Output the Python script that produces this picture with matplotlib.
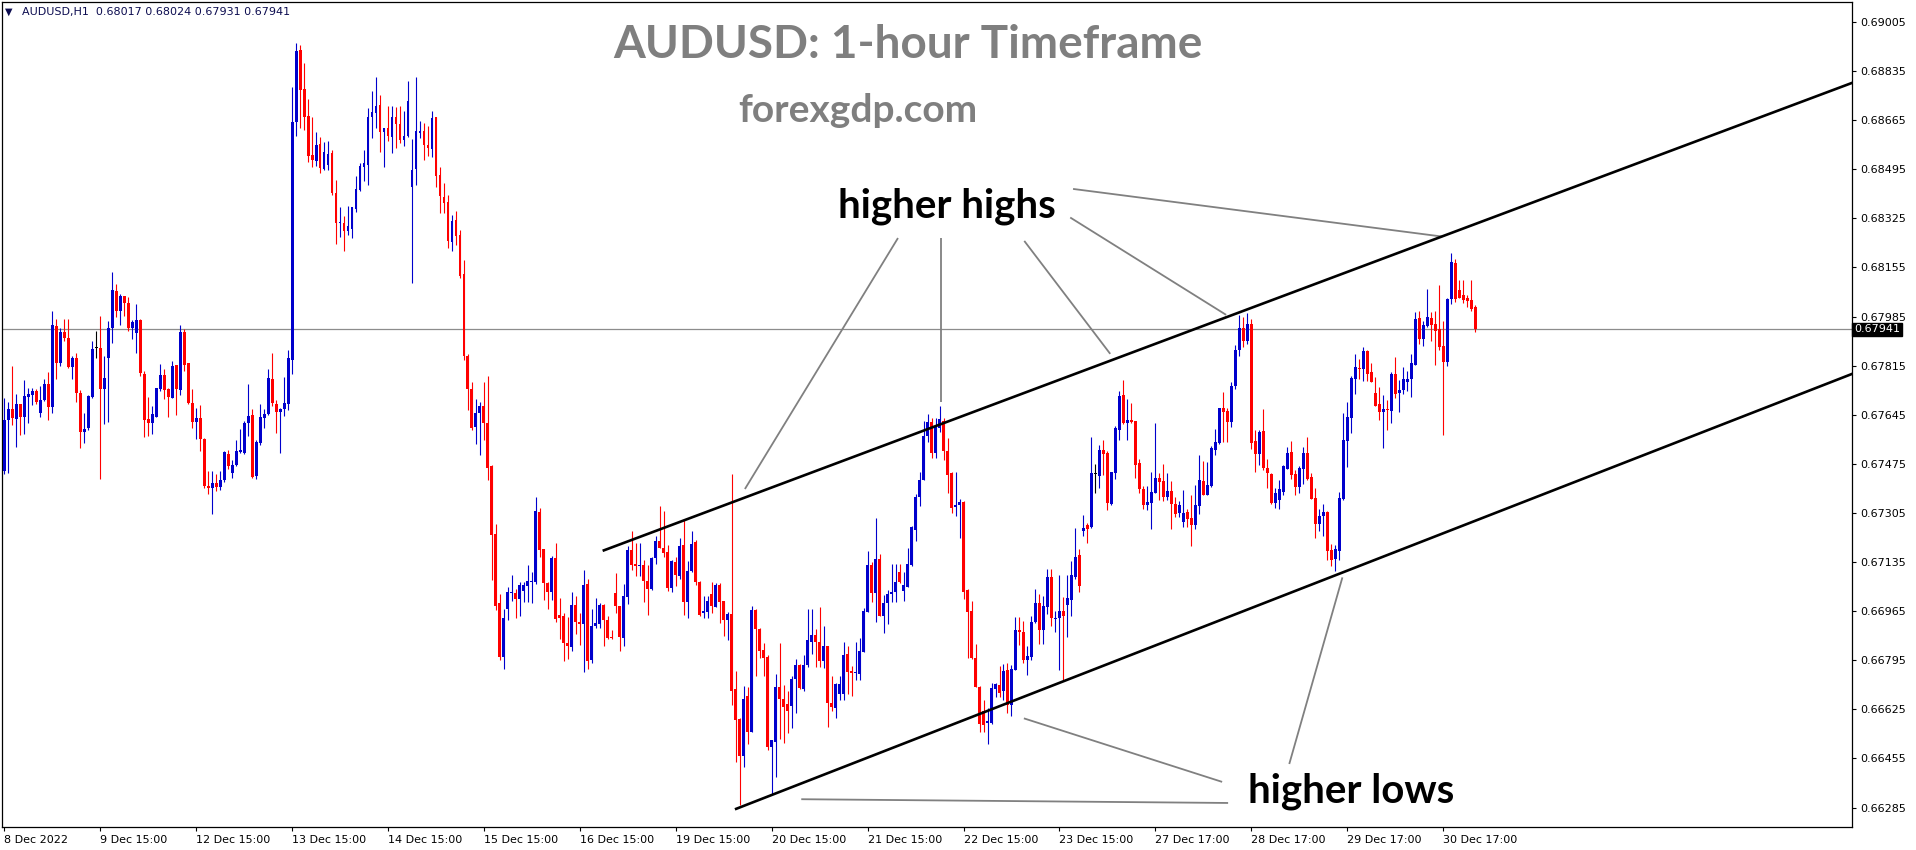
import numpy as np
import matplotlib
matplotlib.use("Agg")
import matplotlib.pyplot as plt

# AUDUSD H1 candles (bar 0 = 8 Dec 15:00)
opens = [
    0.67452, 0.67627, 0.67666, 0.67629, 0.67684, 0.67636, 0.67706, 0.67712, 0.67728, 0.67650, 0.67697, 0.67753,
    0.67672, 0.67954, 0.67823, 0.67932, 0.67911, 0.67812, 0.67842, 0.67721, 0.67587, 0.67598, 0.67706, 0.67875,
    0.67877, 0.67733, 0.67843, 0.67944, 0.68075, 0.68005, 0.68055, 0.68033, 0.67947, 0.67928, 0.67972, 0.67787,
    0.67630, 0.67618, 0.67639, 0.67733, 0.67784, 0.67734, 0.67704, 0.67816, 0.67730, 0.67931, 0.67825, 0.67686,
    0.67619, 0.67634, 0.67560, 0.67400, 0.67390, 0.67410, 0.67395, 0.67419, 0.67510, 0.67443, 0.67472, 0.67515,
    0.67514, 0.67616, 0.67643, 0.67433, 0.67546, 0.67635, 0.67647, 0.67770, 0.67683, 0.67656, 0.67665, 0.67682,
    0.67836, 0.68657, 0.68907, 0.68774, 0.68681, 0.68545, 0.68525, 0.68581, 0.68496, 0.68510, 0.68550, 0.68413,
    0.68308, 0.68309, 0.68283, 0.68288, 0.68357, 0.68423, 0.68503, 0.68509, 0.68675, 0.68689, 0.68716, 0.68625,
    0.68638, 0.68608, 0.68675, 0.68652, 0.68595, 0.68610, 0.68435, 0.68496, 0.68622, 0.68626, 0.68580, 0.68565,
    0.68676, 0.68474, 0.68400, 0.68381, 0.68244, 0.68320, 0.68268, 0.68133, 0.67848, 0.67735, 0.67601, 0.67650,
    0.67677, 0.67617, 0.67466, 0.67233, 0.66992, 0.66807, 0.66971, 0.67027, 0.67027, 0.67008, 0.67036, 0.67051,
    0.67065, 0.67065, 0.67309, 0.67179, 0.67061, 0.67032, 0.67148, 0.66953, 0.66948, 0.66855, 0.66842, 0.66985,
    0.66929, 0.66920, 0.67059, 0.66795, 0.66914, 0.66921, 0.66985, 0.66935, 0.66877, 0.67028, 0.66983, 0.66873,
    0.67014, 0.67178, 0.67128, 0.67120, 0.67126, 0.67068, 0.67042, 0.67148, 0.67208, 0.67185, 0.67171, 0.67046,
    0.67135, 0.67087, 0.67194, 0.66997, 0.67103, 0.67206, 0.67066, 0.66959, 0.66961, 0.67025, 0.66981, 0.67054,
    0.66999, 0.66935, 0.66956, 0.66697, 0.66593, 0.66464, 0.66670, 0.66548, 0.66968, 0.66905, 0.66829, 0.66805,
    0.66494, 0.66511, 0.66701, 0.66661, 0.66644, 0.66637, 0.66730, 0.66780, 0.66696, 0.66777, 0.66860, 0.66884,
    0.66860, 0.66791, 0.66844, 0.66647, 0.66631, 0.66679, 0.66678, 0.66816, 0.66757, 0.66751, 0.66746, 0.66825,
    0.66963, 0.67124, 0.67027, 0.67145, 0.66950, 0.66992, 0.67025, 0.67030, 0.67100, 0.67035, 0.67050, 0.67124,
    0.67246, 0.67359, 0.67418, 0.67570, 0.67620, 0.67511, 0.67598, 0.67622, 0.67521, 0.67444, 0.67325, 0.67331,
    0.67342, 0.67040, 0.66965, 0.66803, 0.66702, 0.66621, 0.66577, 0.66579, 0.66696, 0.66710, 0.66687, 0.66763,
    0.66640, 0.66761, 0.66901, 0.66893, 0.66796, 0.66807, 0.66927, 0.66994, 0.66900, 0.66981, 0.67083, 0.66939,
    0.66941, 0.66967, 0.66988, 0.67004, 0.67085, 0.67158, 0.67243, 0.67262, 0.67258, 0.67439, 0.67434, 0.67524,
    0.67513, 0.67335, 0.67442, 0.67592, 0.67712, 0.67616, 0.67626, 0.67625, 0.67477, 0.67389, 0.67333, 0.67340,
    0.67373, 0.67425, 0.67417, 0.67359, 0.67382, 0.67335, 0.67304, 0.67275, 0.67307, 0.67289, 0.67265, 0.67330,
    0.67417, 0.67369, 0.67399, 0.67523, 0.67548, 0.67668, 0.67657, 0.67621, 0.67743, 0.67870, 0.67945, 0.67900,
    0.67960, 0.67553, 0.67509, 0.67588, 0.67460, 0.67441, 0.67341, 0.67350, 0.67376, 0.67459, 0.67515, 0.67440,
    0.67396, 0.67459, 0.67512, 0.67431, 0.67356, 0.67267, 0.67295, 0.67308, 0.67177, 0.67145, 0.67173, 0.67352,
    0.67555, 0.67634, 0.67768, 0.67805, 0.67802, 0.67867, 0.67793, 0.67720, 0.67683, 0.67656, 0.67664, 0.67659,
    0.67787, 0.67719, 0.67731, 0.67760, 0.67768, 0.67816, 0.67980, 0.67907, 0.67952, 0.67979, 0.67959, 0.67942,
    0.67884, 0.67828, 0.68045, 0.68170, 0.68077, 0.68060, 0.68050, 0.68042, 0.68017,
]
highs = [
    0.67703, 0.67691, 0.67814, 0.67718, 0.67684, 0.67764, 0.67738, 0.67738, 0.67735, 0.67746, 0.67770, 0.67793,
    0.68006, 0.67975, 0.67947, 0.67977, 0.67978, 0.67850, 0.67860, 0.67730, 0.67651, 0.67714, 0.67899, 0.67936,
    0.67988, 0.67850, 0.67971, 0.68140, 0.68099, 0.68064, 0.68057, 0.68052, 0.67974, 0.68030, 0.67975, 0.67797,
    0.67706, 0.67674, 0.67738, 0.67822, 0.67802, 0.67738, 0.67830, 0.67819, 0.67957, 0.67943, 0.67825, 0.67733,
    0.67669, 0.67680, 0.67565, 0.67450, 0.67450, 0.67440, 0.67450, 0.67518, 0.67522, 0.67489, 0.67557, 0.67597,
    0.67622, 0.67750, 0.67664, 0.67556, 0.67684, 0.67664, 0.67803, 0.67860, 0.67697, 0.67668, 0.67775, 0.67870,
    0.68781, 0.68931, 0.68925, 0.68864, 0.68740, 0.68676, 0.68623, 0.68607, 0.68589, 0.68594, 0.68561, 0.68459,
    0.68363, 0.68332, 0.68367, 0.68366, 0.68473, 0.68517, 0.68561, 0.68707, 0.68767, 0.68814, 0.68752, 0.68639,
    0.68714, 0.68715, 0.68709, 0.68714, 0.68696, 0.68800, 0.68600, 0.68815, 0.68662, 0.68655, 0.68644, 0.68697,
    0.68677, 0.68502, 0.68447, 0.68406, 0.68337, 0.68349, 0.68286, 0.68181, 0.67854, 0.67758, 0.67698, 0.67691,
    0.67758, 0.67780, 0.67472, 0.67268, 0.67024, 0.66974, 0.67048, 0.67089, 0.67043, 0.67065, 0.67065, 0.67126,
    0.67100, 0.67359, 0.67323, 0.67182, 0.67065, 0.67157, 0.67201, 0.67009, 0.66959, 0.66945, 0.67032, 0.67017,
    0.66958, 0.67109, 0.67076, 0.66972, 0.67009, 0.66993, 0.66991, 0.66949, 0.66901, 0.67096, 0.66983, 0.67058,
    0.67189, 0.67244, 0.67201, 0.67201, 0.67141, 0.67126, 0.67154, 0.67226, 0.67330, 0.67313, 0.67194, 0.67143,
    0.67154, 0.67220, 0.67280, 0.67140, 0.67241, 0.67211, 0.67069, 0.67019, 0.67019, 0.67066, 0.67062, 0.67063,
    0.67002, 0.66961, 0.67440, 0.66758, 0.66596, 0.66705, 0.66702, 0.66982, 0.66972, 0.66907, 0.66855, 0.66812,
    0.66518, 0.66746, 0.66856, 0.66709, 0.66688, 0.66739, 0.66800, 0.66782, 0.66815, 0.66971, 0.66971, 0.66905,
    0.66980, 0.66915, 0.66844, 0.66742, 0.66716, 0.66741, 0.66858, 0.66843, 0.66774, 0.66859, 0.66872, 0.66976,
    0.67173, 0.67136, 0.67287, 0.67162, 0.67022, 0.67039, 0.67129, 0.67129, 0.67129, 0.67100, 0.67184, 0.67261,
    0.67371, 0.67448, 0.67622, 0.67649, 0.67634, 0.67634, 0.67676, 0.67634, 0.67565, 0.67446, 0.67446, 0.67353,
    0.67347, 0.67042, 0.67000, 0.66853, 0.66705, 0.66659, 0.66630, 0.66718, 0.66718, 0.66774, 0.66783, 0.66787,
    0.66780, 0.66944, 0.66944, 0.66930, 0.66843, 0.66947, 0.67042, 0.67026, 0.67017, 0.67111, 0.67112, 0.66964,
    0.67092, 0.67014, 0.67092, 0.67138, 0.67253, 0.67181, 0.67299, 0.67270, 0.67567, 0.67474, 0.67542, 0.67559,
    0.67519, 0.67448, 0.67605, 0.67728, 0.67764, 0.67698, 0.67686, 0.67625, 0.67493, 0.67400, 0.67400, 0.67446,
    0.67615, 0.67443, 0.67473, 0.67444, 0.67417, 0.67362, 0.67345, 0.67385, 0.67319, 0.67368, 0.67403, 0.67507,
    0.67486, 0.67483, 0.67536, 0.67596, 0.67670, 0.67724, 0.67669, 0.67757, 0.67885, 0.67990, 0.67985, 0.67998,
    0.67975, 0.67592, 0.67591, 0.67664, 0.67491, 0.67444, 0.67391, 0.67420, 0.67472, 0.67535, 0.67553, 0.67454,
    0.67466, 0.67535, 0.67567, 0.67445, 0.67391, 0.67319, 0.67337, 0.67311, 0.67198, 0.67194, 0.67376, 0.67650,
    0.67691, 0.67781, 0.67856, 0.67837, 0.67878, 0.67871, 0.67826, 0.67775, 0.67740, 0.67714, 0.67697, 0.67793,
    0.67844, 0.67766, 0.67810, 0.67798, 0.67856, 0.68000, 0.68003, 0.67968, 0.68082, 0.68000, 0.68005, 0.68093,
    0.67971, 0.68050, 0.68206, 0.68185, 0.68112, 0.68112, 0.68060, 0.68112, 0.68024,
]
lows = [
    0.67441, 0.67443, 0.67610, 0.67534, 0.67576, 0.67580, 0.67615, 0.67679, 0.67683, 0.67639, 0.67694, 0.67627,
    0.67651, 0.67769, 0.67814, 0.67901, 0.67806, 0.67769, 0.67691, 0.67531, 0.67549, 0.67592, 0.67704, 0.67843,
    0.67423, 0.67614, 0.67619, 0.67892, 0.67985, 0.67956, 0.67987, 0.67936, 0.67908, 0.67860, 0.67781, 0.67567,
    0.67570, 0.67580, 0.67636, 0.67728, 0.67699, 0.67636, 0.67702, 0.67644, 0.67712, 0.67798, 0.67683, 0.67599,
    0.67560, 0.67521, 0.67390, 0.67370, 0.67300, 0.67380, 0.67385, 0.67413, 0.67457, 0.67425, 0.67468, 0.67512,
    0.67509, 0.67572, 0.67425, 0.67424, 0.67541, 0.67600, 0.67643, 0.67674, 0.67583, 0.67513, 0.67642, 0.67661,
    0.67785, 0.68609, 0.68638, 0.68631, 0.68521, 0.68502, 0.68506, 0.68482, 0.68492, 0.68492, 0.68407, 0.68238,
    0.68261, 0.68213, 0.68266, 0.68256, 0.68348, 0.68420, 0.68453, 0.68439, 0.68604, 0.68639, 0.68556, 0.68503,
    0.68594, 0.68552, 0.68569, 0.68585, 0.68574, 0.68608, 0.68100, 0.68440, 0.68604, 0.68527, 0.68541, 0.68538,
    0.68432, 0.68343, 0.68342, 0.68222, 0.68212, 0.68232, 0.68117, 0.67836, 0.67662, 0.67591, 0.67543, 0.67505,
    0.67558, 0.67419, 0.67073, 0.66969, 0.66796, 0.66766, 0.66934, 0.67001, 0.66942, 0.66949, 0.66996, 0.66996,
    0.66992, 0.67060, 0.67154, 0.67004, 0.66974, 0.67003, 0.66926, 0.66868, 0.66794, 0.66799, 0.66828, 0.66886,
    0.66848, 0.66754, 0.66764, 0.66784, 0.66906, 0.66908, 0.66844, 0.66868, 0.66869, 0.66958, 0.66826, 0.66844,
    0.66991, 0.67108, 0.67087, 0.67087, 0.66998, 0.66952, 0.67038, 0.67127, 0.67183, 0.67153, 0.67036, 0.67032,
    0.67053, 0.67075, 0.66952, 0.66941, 0.67101, 0.67054, 0.66949, 0.66943, 0.66943, 0.66958, 0.66978, 0.66923,
    0.66879, 0.66865, 0.66640, 0.66443, 0.66293, 0.66426, 0.66504, 0.66548, 0.66741, 0.66802, 0.66742, 0.66483,
    0.66331, 0.66391, 0.66524, 0.66507, 0.66542, 0.66559, 0.66613, 0.66695, 0.66689, 0.66773, 0.66816, 0.66773,
    0.66773, 0.66767, 0.66565, 0.66618, 0.66596, 0.66658, 0.66657, 0.66678, 0.66673, 0.66727, 0.66726, 0.66825,
    0.66963, 0.66998, 0.66928, 0.66947, 0.66889, 0.66922, 0.66996, 0.66996, 0.67062, 0.67002, 0.67050, 0.67122,
    0.67208, 0.67330, 0.67418, 0.67552, 0.67494, 0.67497, 0.67586, 0.67490, 0.67375, 0.67306, 0.67294, 0.67219,
    0.67006, 0.66804, 0.66799, 0.66701, 0.66548, 0.66548, 0.66504, 0.66576, 0.66669, 0.66669, 0.66658, 0.66612,
    0.66602, 0.66761, 0.66849, 0.66785, 0.66744, 0.66795, 0.66924, 0.66852, 0.66851, 0.66955, 0.66912, 0.66894,
    0.66763, 0.66726, 0.66875, 0.66948, 0.67075, 0.67033, 0.67226, 0.67200, 0.67252, 0.67375, 0.67390, 0.67437,
    0.67315, 0.67332, 0.67424, 0.67557, 0.67614, 0.67556, 0.67616, 0.67427, 0.67375, 0.67319, 0.67315, 0.67248,
    0.67373, 0.67349, 0.67347, 0.67350, 0.67251, 0.67292, 0.67292, 0.67257, 0.67257, 0.67191, 0.67251, 0.67300,
    0.67367, 0.67367, 0.67396, 0.67506, 0.67545, 0.67551, 0.67552, 0.67604, 0.67735, 0.67850, 0.67880, 0.67890,
    0.67525, 0.67448, 0.67471, 0.67454, 0.67390, 0.67336, 0.67321, 0.67318, 0.67367, 0.67457, 0.67423, 0.67367,
    0.67375, 0.67407, 0.67419, 0.67352, 0.67219, 0.67243, 0.67226, 0.67142, 0.67121, 0.67103, 0.67141, 0.67349,
    0.67464, 0.67582, 0.67716, 0.67768, 0.67762, 0.67763, 0.67760, 0.67674, 0.67627, 0.67530, 0.67592, 0.67617,
    0.67702, 0.67655, 0.67717, 0.67728, 0.67706, 0.67816, 0.67890, 0.67882, 0.67948, 0.67901, 0.67816, 0.67870,
    0.67576, 0.67814, 0.68030, 0.68034, 0.68048, 0.68031, 0.68019, 0.68005, 0.67931,
]
closes = [
    0.67627, 0.67665, 0.67634, 0.67683, 0.67637, 0.67711, 0.67718, 0.67728, 0.67689, 0.67697, 0.67752, 0.67671,
    0.67957, 0.67824, 0.67932, 0.67910, 0.67812, 0.67841, 0.67720, 0.67587, 0.67596, 0.67711, 0.67873, 0.67875,
    0.67734, 0.67771, 0.67945, 0.68078, 0.68005, 0.68055, 0.68032, 0.67947, 0.67967, 0.67974, 0.67789, 0.67628,
    0.67616, 0.67648, 0.67738, 0.67783, 0.67732, 0.67705, 0.67815, 0.67734, 0.67930, 0.67818, 0.67687, 0.67619,
    0.67634, 0.67560, 0.67400, 0.67390, 0.67410, 0.67395, 0.67419, 0.67515, 0.67466, 0.67472, 0.67518, 0.67522,
    0.67616, 0.67642, 0.67431, 0.67550, 0.67636, 0.67648, 0.67771, 0.67685, 0.67656, 0.67665, 0.67685, 0.67841,
    0.68659, 0.68906, 0.68770, 0.68675, 0.68541, 0.68527, 0.68580, 0.68499, 0.68554, 0.68548, 0.68413, 0.68310,
    0.68314, 0.68283, 0.68297, 0.68363, 0.68426, 0.68505, 0.68517, 0.68675, 0.68692, 0.68715, 0.68623, 0.68637,
    0.68609, 0.68675, 0.68651, 0.68595, 0.68611, 0.68732, 0.68493, 0.68626, 0.68628, 0.68580, 0.68570, 0.68674,
    0.68473, 0.68401, 0.68377, 0.68245, 0.68316, 0.68265, 0.68126, 0.67847, 0.67734, 0.67599, 0.67651, 0.67676,
    0.67616, 0.67460, 0.67229, 0.66984, 0.66808, 0.66941, 0.67031, 0.67031, 0.67008, 0.67054, 0.67057, 0.67068,
    0.67070, 0.67312, 0.67178, 0.67062, 0.67033, 0.67149, 0.66939, 0.66943, 0.66855, 0.66843, 0.66988, 0.66926,
    0.66921, 0.67054, 0.66791, 0.66914, 0.66924, 0.66985, 0.66935, 0.66873, 0.66872, 0.66982, 0.66874, 0.67016,
    0.67178, 0.67125, 0.67120, 0.67125, 0.67068, 0.67043, 0.67149, 0.67208, 0.67185, 0.67165, 0.67047, 0.67139,
    0.67090, 0.67192, 0.66998, 0.67104, 0.67198, 0.67065, 0.66953, 0.66964, 0.67002, 0.66982, 0.67056, 0.66996,
    0.66935, 0.66956, 0.66690, 0.66589, 0.66462, 0.66662, 0.66548, 0.66968, 0.66904, 0.66826, 0.66802, 0.66494,
    0.66518, 0.66702, 0.66660, 0.66635, 0.66618, 0.66730, 0.66780, 0.66698, 0.66780, 0.66864, 0.66881, 0.66860,
    0.66791, 0.66845, 0.66646, 0.66633, 0.66712, 0.66712, 0.66814, 0.66756, 0.66751, 0.66754, 0.66828, 0.66967,
    0.67126, 0.67027, 0.67144, 0.66950, 0.66993, 0.67025, 0.67033, 0.67065, 0.67065, 0.67056, 0.67129, 0.67256,
    0.67362, 0.67419, 0.67573, 0.67620, 0.67511, 0.67602, 0.67629, 0.67520, 0.67437, 0.67321, 0.67333, 0.67342,
    0.67033, 0.66961, 0.66802, 0.66701, 0.66574, 0.66571, 0.66585, 0.66698, 0.66712, 0.66683, 0.66759, 0.66641,
    0.66765, 0.66901, 0.66892, 0.66796, 0.66810, 0.66927, 0.66993, 0.66901, 0.66984, 0.67082, 0.66941, 0.66943,
    0.66967, 0.66947, 0.67009, 0.67091, 0.67154, 0.67051, 0.67252, 0.67250, 0.67443, 0.67439, 0.67522, 0.67510,
    0.67341, 0.67446, 0.67599, 0.67711, 0.67616, 0.67628, 0.67620, 0.67472, 0.67388, 0.67333, 0.67342, 0.67376,
    0.67425, 0.67413, 0.67359, 0.67382, 0.67335, 0.67301, 0.67333, 0.67304, 0.67284, 0.67265, 0.67333, 0.67419,
    0.67369, 0.67402, 0.67530, 0.67552, 0.67668, 0.67656, 0.67619, 0.67746, 0.67870, 0.67945, 0.67900, 0.67960,
    0.67549, 0.67510, 0.67587, 0.67460, 0.67443, 0.67341, 0.67374, 0.67388, 0.67469, 0.67514, 0.67437, 0.67396,
    0.67462, 0.67511, 0.67423, 0.67355, 0.67267, 0.67295, 0.67307, 0.67174, 0.67142, 0.67179, 0.67356, 0.67559,
    0.67639, 0.67774, 0.67809, 0.67803, 0.67867, 0.67787, 0.67760, 0.67676, 0.67653, 0.67664, 0.67660, 0.67787,
    0.67717, 0.67731, 0.67769, 0.67769, 0.67823, 0.67977, 0.67908, 0.67956, 0.67983, 0.67956, 0.67936, 0.67881,
    0.67829, 0.68045, 0.68175, 0.68046, 0.68050, 0.68042, 0.68040, 0.68013, 0.67941,
]

last_price = 0.67941
header = "AUDUSD,H1  0.68017 0.68024 0.67931 0.67941"

price_ticks = [0.69005, 0.68835, 0.68665, 0.68495, 0.68325, 0.68155, 0.67985, 0.67815, 0.67645,
               0.67475, 0.67305, 0.67135, 0.66965, 0.66795, 0.66625, 0.66455, 0.66285]
time_ticks = [0, 24, 48, 72, 96, 120, 144, 168, 192, 216, 240, 264, 288, 312, 336, 360]
time_labels = ["8 Dec 2022", "9 Dec 15:00", "12 Dec 15:00", "13 Dec 15:00", "14 Dec 15:00",
               "15 Dec 15:00", "16 Dec 15:00", "19 Dec 15:00", "20 Dec 15:00", "21 Dec 15:00",
               "22 Dec 15:00", "23 Dec 15:00", "27 Dec 17:00", "28 Dec 17:00", "29 Dec 17:00",
               "30 Dec 17:00"]

# channel lines (bar index, price)
upper_channel = [(149.7, 0.67174), (470.0, 0.68834)]
lower_channel = [(182.8, 0.66279), (470.0, 0.67828)]

# grey pointer lines
highs_pointers = [
    [(267.4, 0.68427), (359.8, 0.68262)],
    [(266.7, 0.68328), (305.7, 0.67991)],
    [(255.2, 0.68247), (276.7, 0.67856)],
    [(234.4, 0.68257), (234.4, 0.67691)],
    [(223.6, 0.68257), (185.3, 0.67388)],
]
lows_pointers = [
    [(304.7, 0.66374), (255.1, 0.66594)],
    [(306.2, 0.66301), (199.4, 0.66314)],
    [(321.5, 0.66436), (334.8, 0.67082)],
]

W, H = 1916, 850
fig = plt.figure(figsize=(W / 100, H / 100), dpi=100)
fig.patch.set_facecolor("white")
ax = fig.add_axes([2 / W, 1 - 827 / H, 1850 / W, 825 / H])

o = np.array(opens)
h = np.array(highs)
l = np.array(lows)
c = np.array(closes)
x = np.arange(len(c))

cols = np.where(c > o, "#0000cc", np.where(c < o, "#ff0000", "black"))
ax.vlines(x, l, h, colors=cols, lw=0.8, zorder=3)
body = np.maximum(np.abs(c - o), 0.00003)
ax.bar(x, body, bottom=np.minimum(o, c), width=0.72, color=cols, lw=0, zorder=3)

ax.axhline(last_price, color="#8c8c8c", lw=0.9, zorder=2)

for line in (upper_channel, lower_channel):
    ax.plot([line[0][0], line[1][0]], [line[0][1], line[1][1]], color="black",
            lw=1.9, solid_capstyle="butt", zorder=5)

for seg in highs_pointers + lows_pointers:
    ax.plot([seg[0][0], seg[1][0]], [seg[0][1], seg[1][1]], color="#808080",
            lw=1.3, solid_capstyle="butt", zorder=4)

ax.set_xlim(-0.58, 462.3)
ax.set_ylim(0.662178, 0.690742)

ax.yaxis.tick_right()
ax.set_yticks(price_ticks)
ax.set_yticklabels([f"{p:.5f}" for p in price_ticks])
ax.set_xticks(time_ticks)
ax.set_xticklabels(time_labels, ha="left")
ax.tick_params(axis="both", labelsize=8, colors="black", direction="out", length=3, width=0.8)
ax.tick_params(axis="y", pad=3)
ax.tick_params(axis="x", pad=3)
for sp in ax.spines.values():
    sp.set_color("black")
    sp.set_linewidth(0.9)

ax.text(1.0 + 2 / 1850, last_price, f"{last_price:.5f}", transform=ax.get_yaxis_transform(),
        ha="left", va="center", fontsize=8, color="white", zorder=6, clip_on=False,
        bbox=dict(boxstyle="square,pad=0.15", fc="black", ec="black"))

def fx(px, py):
    return px / W, 1 - py / H

fig.text(*fx(5, 12), "\u25bc", fontsize=7, color="#0c0c50", va="center", ha="left")
fig.text(*fx(22, 12), header, fontsize=8, color="#0c0c50", va="center", ha="left")

fig.text(*fx(908, 58.5), "AUDUSD: 1-hour Timeframe", fontsize=33, fontweight="bold",
         family="Lato", color="#7f7f7f", ha="center", va="baseline")
fig.text(*fx(858, 122), "forexgdp.com", fontsize=28, fontweight="bold",
         family="Lato", color="#7f7f7f", ha="center", va="baseline")
fig.text(*fx(947, 217), "higher highs", fontsize=29, fontweight="bold",
         family="Lato", color="black", ha="center", va="baseline")
fig.text(*fx(1351, 802), "higher lows", fontsize=29, fontweight="bold",
         family="Lato", color="black", ha="center", va="baseline")

fig.savefig("out.png", dpi=100, facecolor="white")
